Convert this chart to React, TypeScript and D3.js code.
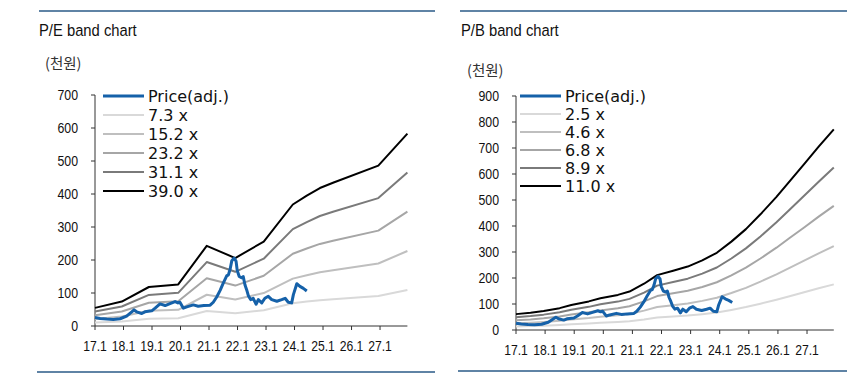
import React from "react";
import * as d3 from "d3";

// ---------- DATA ----------
const yearTicks = [2017, 2018, 2019, 2020, 2021, 2022, 2023, 2024, 2025, 2026, 2027];
const yearTickLabels = ["17.1", "18.1", "19.1", "20.1", "21.1", "22.1", "23.1", "24.1", "25.1", "26.1", "27.1"];

// Price (adj.), thousand KRW
const priceDates = [
  2017.0, 2017.18, 2017.41, 2017.64, 2017.88, 2018.11, 2018.29, 2018.37, 2018.46, 2018.64, 2018.75, 2018.99,
  2019.11, 2019.28, 2019.46, 2019.63, 2019.81, 2019.91, 2019.98, 2020.1, 2020.22, 2020.45, 2020.62, 2020.82,
  2021.04, 2021.15, 2021.27, 2021.39, 2021.5, 2021.62, 2021.68, 2021.74, 2021.8, 2021.88, 2021.95, 2021.99,
  2022.06, 2022.15, 2022.2, 2022.26, 2022.32, 2022.38, 2022.46, 2022.55, 2022.65, 2022.73, 2022.85, 2022.96,
  2023.08, 2023.2, 2023.38, 2023.55, 2023.67, 2023.78, 2023.9, 2023.96, 2024.08, 2024.19, 2024.31, 2024.43,
];
const priceValues = [
  26, 23, 21, 20, 22, 30, 43, 49, 43, 38, 43, 46,
  54, 67, 62, 68, 74, 70, 72, 54, 58, 64, 60, 62,
  63, 72, 88, 108, 130, 152, 155, 172, 198, 206, 196, 168,
  150, 146, 150, 125, 110, 92, 80, 84, 66, 80, 70, 84,
  90, 80, 75, 80, 84, 72, 70, 95, 128, 120, 114, 106,
];

// P/E band: EPS (thousand KRW) and multiples
const peDates = [2017.0, 2017.94, 2018.89, 2019.92, 2020.92, 2021.92, 2022.92, 2023.94, 2024.43, 2024.89, 2025.35, 2026.94, 2027.96];
const peEps = [1.41, 1.9, 3.03, 3.23, 6.23, 5.28, 6.56, 9.44, 10.13, 10.72, 11.13, 12.46, 14.95];
const peMultiples = [7.3, 15.2, 23.2, 31.1, 39.0];
const peLabels = ["7.3 x", "15.2 x", "23.2 x", "31.1 x", "39.0 x"];
const peYTicks = [0, 100, 200, 300, 400, 500, 600, 700];

// P/B band: BPS (thousand KRW) and multiples
const pbDates = [
  2017.0, 2017.5, 2017.95, 2018.5, 2018.9, 2019.5, 2019.9, 2020.5, 2020.9, 2021.4, 2021.85, 2022.4,
  2022.9, 2023.4, 2023.9, 2024.4, 2024.9, 2025.4, 2025.95, 2026.4, 2026.9, 2027.4, 2027.92,
];
const pbBps = [
  5.55, 6.0, 6.64, 7.64, 8.73, 10.0, 11.09, 12.27, 13.45, 16.18, 19.18, 20.73,
  22.18, 24.36, 27.0, 30.9, 35.27, 40.45, 46.55, 52.0, 58.0, 64.1, 70.18,
];
const pbMultiples = [2.5, 4.6, 6.8, 8.9, 11.0];
const pbLabels = ["2.5 x", "4.6 x", "6.8 x", "8.9 x", "11.0 x"];
const pbYTicks = [0, 100, 200, 300, 400, 500, 600, 700, 800, 900];

const bandColors = ["#d9d9d9", "#bfbfbf", "#a6a6a6", "#7a7a7a", "#000000"];
const priceColor = "#1561a9";

const SANS = "'Liberation Sans', Arial, sans-serif";
const LEGEND_FONT = "'DejaVu Sans', Verdana, sans-serif";
const KR_FONT = "'Noto Sans CJK KR', sans-serif";

function SText(props: {
  x: number;
  y: number;
  sx: number;
  size: number;
  anchor?: string;
  children: React.ReactNode;
}) {
  return (
    <text
      transform={`translate(${props.x},${props.y}) scale(${props.sx},1)`}
      textAnchor={props.anchor || "start"}
      fontFamily={SANS}
      fontSize={props.size}
      fill="#111"
    >
      {props.children}
    </text>
  );
}

type PanelProps = {
  title: string;
  xRange: [number, number];
  xEnd: number;
  yMax: number;
  yRange: [number, number];
  yTicks: number[];
  bandDates: number[];
  base: number[];
  multiples: number[];
  labels: string[];
  legendX: number;
  legendStep: number;
  titleX: number;
  unitX: number;
  unitY: number;
};

function Panel(p: PanelProps) {
  const x = d3.scaleLinear().domain([2017, p.xEnd]).range(p.xRange);
  const y = d3.scaleLinear().domain([0, p.yMax]).range(p.yRange);
  const line = d3
    .line<[number, number]>()
    .x((d) => x(d[0]))
    .y((d) => y(d[1]));

  const bands = p.multiples.map((m) => p.bandDates.map((dt, i) => [dt, p.base[i] * m] as [number, number]));
  const price = priceDates.map((dt, i) => [dt, priceValues[i]] as [number, number]);

  const x0 = p.xRange[0];
  const x1 = p.xRange[1];
  const yb = p.yRange[0];
  const yt = p.yRange[1];

  const legendItems = [{ label: "Price(adj.)", color: priceColor, w: 3 }].concat(
    p.labels.map((l, i) => ({ label: l, color: bandColors[i], w: 2 }))
  );

  return (
    <g>
      <SText x={p.titleX} y={35.5} sx={0.88} size={16.8}>
        {p.title}
      </SText>
      <text x={p.unitX} y={p.unitY} fontFamily={KR_FONT} fontSize={14.5} fill="#333" dominantBaseline="central">
        (천원)
      </text>

      {/* y axis */}
      <line x1={x0} x2={x0} y1={yt} y2={yb} stroke="#333" strokeWidth={1} />
      {p.yTicks.map((t) => (
        <g key={t}>
          <line x1={x0 - 4} x2={x0} y1={y(t)} y2={y(t)} stroke="#333" strokeWidth={1} />
          <SText x={x0 - 17} y={y(t) + 5.2} sx={0.85} size={14.5} anchor="end">
            {t}
          </SText>
        </g>
      ))}

      {/* x axis */}
      <line x1={x0} x2={x1} y1={yb} y2={yb} stroke="#333" strokeWidth={1} />
      {yearTicks.map((t, i) => (
        <g key={t}>
          <line x1={x(t)} x2={x(t)} y1={yb} y2={yb + 4} stroke="#333" strokeWidth={1} />
          <SText x={x(t)} y={yb + 24.5} sx={0.84} size={14.5} anchor="middle">
            {yearTickLabels[i]}
          </SText>
        </g>
      ))}

      {/* bands */}
      {bands.map((b, i) => (
        <path key={i} d={line(b) || ""} fill="none" stroke={bandColors[i]} strokeWidth={2} strokeLinejoin="round" />
      ))}
      {/* price */}
      <path d={line(price) || ""} fill="none" stroke={priceColor} strokeWidth={3} strokeLinejoin="round" />

      {/* legend */}
      {legendItems.map((it, i) => (
        <g key={it.label}>
          <line
            x1={p.legendX}
            x2={p.legendX + 41}
            y1={96 + i * p.legendStep}
            y2={96 + i * p.legendStep}
            stroke={it.color}
            strokeWidth={it.w}
          />
          <text
            x={p.legendX + 45}
            y={96 + i * p.legendStep}
            dominantBaseline="central"
            fontFamily={LEGEND_FONT}
            fontSize={16}
            fill="#111"
          >
            {it.label}
          </text>
        </g>
      ))}
    </g>
  );
}

export default function App() {
  return (
    <svg
      width={856}
      height={385}
      viewBox="0 0 856 385"
      style={{ position: "absolute", left: 0, top: 0, background: "#fff" }}
    >
      <rect x={0} y={0} width={856} height={385} fill="#fff" />
      {/* frame rules */}
      <line x1={39} x2={435} y1={11} y2={11} stroke="#2a5a87" strokeWidth={1.5} />
      <line x1={460} x2={847} y1={11} y2={11} stroke="#2a5a87" strokeWidth={1.5} />
      <line x1={37} x2={435} y1={372} y2={372} stroke="#2a5a87" strokeWidth={1.5} />
      <line x1={458} x2={847} y1={371} y2={371} stroke="#2a5a87" strokeWidth={1.5} />

      <Panel
        title="P/E band chart"
        xRange={[95, 407.4]}
        xEnd={2027.96}
        yMax={700}
        yRange={[326, 95]}
        yTicks={peYTicks}
        bandDates={peDates}
        base={peEps}
        multiples={peMultiples}
        labels={peLabels}
        legendX={103}
        legendStep={19}
        titleX={39}
        unitX={45}
        unitY={62}
      />
      <Panel
        title="P/B band chart"
        xRange={[516, 833.8]}
        xEnd={2027.92}
        yMax={900}
        yRange={[330, 96]}
        yTicks={pbYTicks}
        bandDates={pbDates}
        base={pbBps}
        multiples={pbMultiples}
        labels={pbLabels}
        legendX={520}
        legendStep={18}
        titleX={461}
        unitX={467}
        unitY={69}
      />
    </svg>
  );
}
